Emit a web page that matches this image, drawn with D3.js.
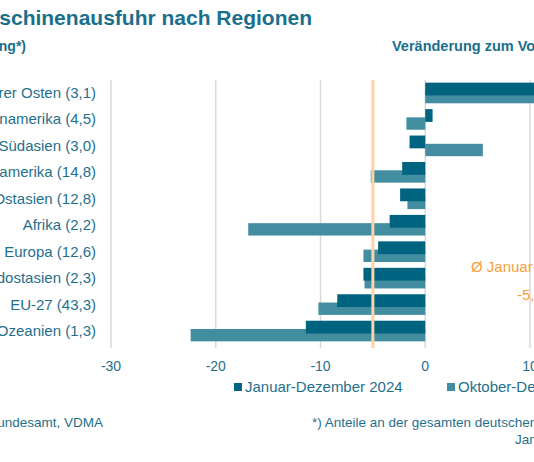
<!DOCTYPE html>
<html><head><meta charset="utf-8">
<script src="https://cdn.jsdelivr.net/npm/d3@7"></script>
<style>body{margin:0;background:#fff;overflow:hidden}text{font-family:"Liberation Sans",Arial,sans-serif}</style>
</head><body><div></div>
<script>
var regions = ["Naher und Mittlerer Osten (3,1)", "Lateinamerika (4,5)", "Südasien (3,0)", "Nordamerika (14,8)",
  "Ostasien (12,8)", "Afrika (2,2)", "Übriges Europa (12,6)", "Südostasien (2,3)", "EU-27 (43,3)", "Australien/Ozeanien (1,3)"];
var janDez = [12.5, 0.7, -1.5, -2.2, -2.4, -3.4, -4.5, -5.9, -8.4, -11.4];
var oktDez = [14.5, -1.8, 5.5, -5.2, -1.7, -16.9, -5.9, -5.8, -10.2, -22.4];
var avg = -5.0;
var ticks = [-30, -20, -10, 0, 10];

var width = 534, height = 462;
var dark = "#00637f", light = "#428ea0", txt = "#1f6f8b";
var svg = d3.select("div").append("svg").attr("width", width).attr("height", height);

var x = d3.scaleLinear().domain([-30, 10]).range([111, 530]);
var y = d3.scaleBand().domain(regions).range([80, 344]).paddingInner(0.22).paddingOuter(0.1);

svg.selectAll("line.grid").data(ticks).enter().append("line")
  .attr("x1", d => x(d)).attr("x2", d => x(d)).attr("y1", 80).attr("y2", 348)
  .attr("stroke", "#d9d9d9").attr("stroke-width", 1.5);

var bh = y.bandwidth();
svg.selectAll("rect.l").data(oktDez).enter().append("rect")
  .attr("x", d => x(Math.min(0, d))).attr("width", d => Math.abs(x(d) - x(0)))
  .attr("y", (d, i) => y(regions[i]) + bh * 0.4).attr("height", bh * 0.6).attr("fill", light);
svg.selectAll("rect.d").data(janDez).enter().append("rect")
  .attr("x", d => x(Math.min(0, d))).attr("width", d => Math.abs(x(d) - x(0)))
  .attr("y", (d, i) => y(regions[i])).attr("height", bh * 0.62).attr("fill", dark);

svg.append("line").attr("x1", x(avg)).attr("x2", x(avg)).attr("y1", 80).attr("y2", 348)
  .attr("stroke", "#ffd3a8").attr("stroke-width", 3);

svg.selectAll("text.cat").data(regions).enter().append("text")
  .attr("x", 96).attr("y", d => y(d) + bh / 2 + 5).attr("text-anchor", "end")
  .attr("font-size", 15).attr("fill", txt).text(d => d);

svg.selectAll("text.tick").data(ticks).enter().append("text")
  .attr("x", d => x(d)).attr("y", 371).attr("text-anchor", "middle")
  .attr("font-size", 14).attr("fill", txt).text(d => d);

svg.append("text").attr("x", 312).attr("y", 25).attr("text-anchor", "end").attr("font-size", 21)
  .attr("font-weight", "bold").attr("fill", "#1a6f8c").text("Deutsche Maschinenausfuhr nach Regionen");
svg.append("text").attr("x", 26).attr("y", 51).attr("text-anchor", "end").attr("font-size", 14)
  .attr("font-weight", "bold").attr("fill", "#1a6f8c").text("(Anteil 2024 in Prozent, Sortierung*)");
svg.append("text").attr("x", 392).attr("y", 51).attr("font-size", 14.5)
  .attr("font-weight", "bold").attr("fill", "#1a6f8c").text("Veränderung zum Vorjahr in Prozent");

svg.append("text").attr("x", 471).attr("y", 272).attr("font-size", 15).attr("fill", "#f5a040").text("Ø Januar-Dezember 2024:");
svg.append("text").attr("x", 517).attr("y", 300).attr("font-size", 15).attr("fill", "#f5a040").text("-5,0 %");

var leg = [["Januar-Dezember 2024", dark, 234], ["Oktober-Dezember 2024", light, 447]];
leg.forEach(function (l) {
  svg.append("rect").attr("x", l[2]).attr("y", 383).attr("width", 8).attr("height", 8).attr("fill", l[1]);
  svg.append("text").attr("x", l[2] + 11).attr("y", 392).attr("font-size", 15).attr("fill", txt).text(l[0]);
});

svg.append("text").attr("x", 103).attr("y", 427).attr("text-anchor", "end").attr("font-size", 13.5)
  .attr("fill", txt).text("Quelle: Statistisches Bundesamt, VDMA");
svg.append("text").attr("x", 312).attr("y", 427).attr("font-size", 13.5)
  .attr("fill", txt).text("*) Anteile an der gesamten deutschen Maschinenausfuhr");
svg.append("text").attr("x", 515).attr("y", 444).attr("font-size", 13.5)
  .attr("fill", txt).text("Januar-Dezember 2024");
</script></body></html>
